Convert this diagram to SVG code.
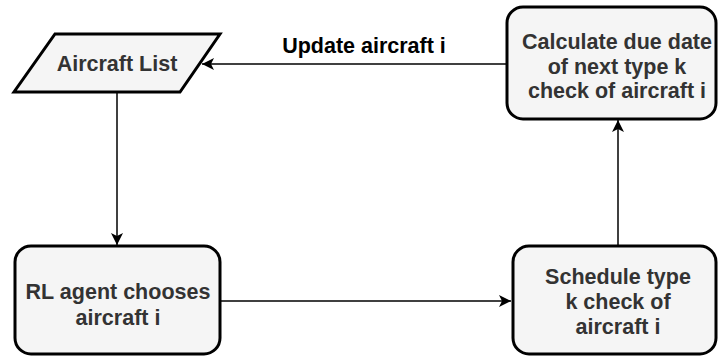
<svg xmlns="http://www.w3.org/2000/svg" width="718" height="356" viewBox="0 0 718 356">
<style>
.node{fill:#f5f5f5;stroke:#000;stroke-width:3}
.t{font-family:"Liberation Sans",Arial,sans-serif;font-weight:bold;font-size:21.5px;fill:#333;text-anchor:middle}
.lbl{font-family:"Liberation Sans",Arial,sans-serif;font-weight:bold;font-size:21.5px;fill:#000;text-anchor:middle}
.edge{fill:none;stroke:#000;stroke-width:1.5}
</style>
<defs>
<marker id="arr" viewBox="0 0 12 12" refX="12" refY="6" markerWidth="12" markerHeight="12" markerUnits="userSpaceOnUse" orient="auto">
<path d="M0,0 L12,6 L0,12 L3,6 Z" fill="#000"/>
</marker>
</defs>
<rect width="718" height="356" fill="#fff"/>
<g id="connectors">
<path class="edge" d="M507,64 L202,64" marker-end="url(#arr)"/>
<path class="edge" d="M117,93 L117,245" marker-end="url(#arr)"/>
<path class="edge" d="M220,301 L511,301" marker-end="url(#arr)"/>
<path class="edge" d="M618,246 L618,120" marker-end="url(#arr)"/>
<text class="lbl" x="364" y="53">Update aircraft i</text>
</g>
<g id="aircraft-list">
<polygon class="node" points="55,34 220,34 180,92 14,92"/>
<text class="t" x="117" y="71">Aircraft List</text>
</g>
<g id="calculate">
<rect class="node" x="507" y="7" width="209" height="112" rx="16"/>
<text class="t" x="617" y="49">Calculate due date</text>
<text class="t" x="617" y="74">of next type k</text>
<text class="t" x="617" y="98">check of aircraft i</text>
</g>
<g id="rl-agent">
<rect class="node" x="15" y="246" width="205" height="108" rx="16"/>
<text class="t" x="118" y="299">RL agent chooses</text>
<text class="t" x="118" y="325">aircraft i</text>
</g>
<g id="schedule">
<rect class="node" x="513" y="246" width="203" height="108" rx="16"/>
<text class="t" x="618" y="284">Schedule type</text>
<text class="t" x="618" y="309">k check of</text>
<text class="t" x="618" y="334">aircraft i</text>
</g>
</svg>
